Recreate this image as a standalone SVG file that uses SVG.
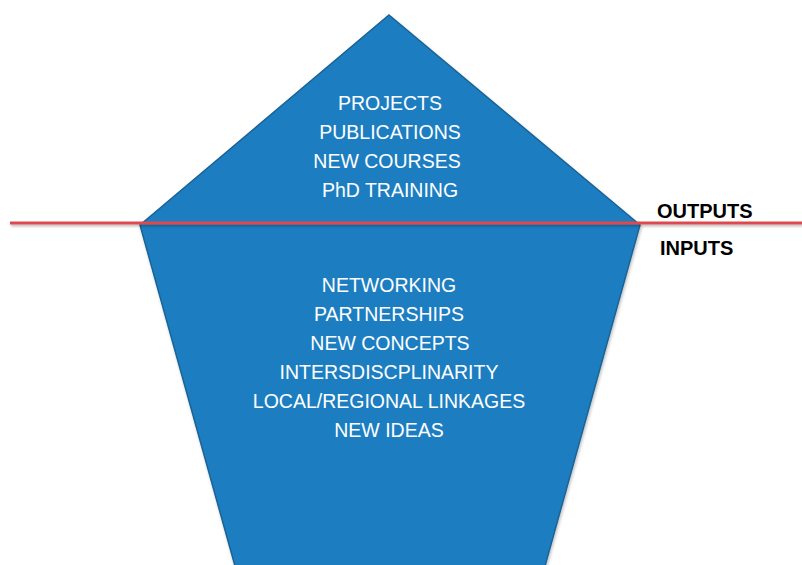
<svg xmlns="http://www.w3.org/2000/svg" width="802" height="565" viewBox="0 0 802 565">
  <defs>
    <style>
      .shape { fill: #1f7ec1; stroke: #1a6396; stroke-width: 1.5; stroke-linejoin: miter; }
      .inner { font-family: "Liberation Sans", Arial, sans-serif; font-size: 19.5px; fill: #ffffff; text-anchor: middle; }
      .side { font-family: "Liberation Sans", Arial, sans-serif; font-size: 20px; font-weight: bold; fill: #000000; }
      .divider { stroke: #dd4a50; stroke-width: 3; fill: none; }
    </style>
    <filter id="shadow" x="-5%" y="-5%" width="110%" height="110%">
      <feDropShadow dx="1" dy="2" stdDeviation="1.5" flood-color="#000000" flood-opacity="0.25"/>
    </filter>
    <filter id="lineshadow" filterUnits="userSpaceOnUse" x="0" y="210" width="802" height="30">
      <feDropShadow dx="1" dy="2" stdDeviation="1.2" flood-color="#000000" flood-opacity="0.25"/>
    </filter>
  </defs>
  <rect width="802" height="565" fill="#ffffff"/>
  <g id="pentagon">
    <polygon class="shape" filter="url(#shadow)" points="389,15 640,225 545,566 235,566 140,225"/>
  </g>
  <g id="outputs-text">
    <text class="inner" x="390" y="110">PROJECTS</text>
    <text class="inner" x="390" y="139">PUBLICATIONS</text>
    <text class="inner" x="387" y="168">NEW COURSES</text>
    <text class="inner" x="390" y="197">PhD TRAINING</text>
  </g>
  <g id="inputs-text">
    <text class="inner" x="389" y="292">NETWORKING</text>
    <text class="inner" x="389" y="321">PARTNERSHIPS</text>
    <text class="inner" x="390" y="350">NEW CONCEPTS</text>
    <text class="inner" x="389" y="379">INTERSDISCPLINARITY</text>
    <text class="inner" x="389" y="408">LOCAL/REGIONAL LINKAGES</text>
    <text class="inner" x="389" y="437">NEW IDEAS</text>
  </g>
  <g id="connectors">
    <line class="divider" filter="url(#lineshadow)" x1="10" y1="223" x2="802" y2="223"/>
  </g>
  <g id="label-outputs">
    <text class="side" x="657" y="218">OUTPUTS</text>
  </g>
  <g id="label-inputs">
    <text class="side" x="660" y="255">INPUTS</text>
  </g>
</svg>
